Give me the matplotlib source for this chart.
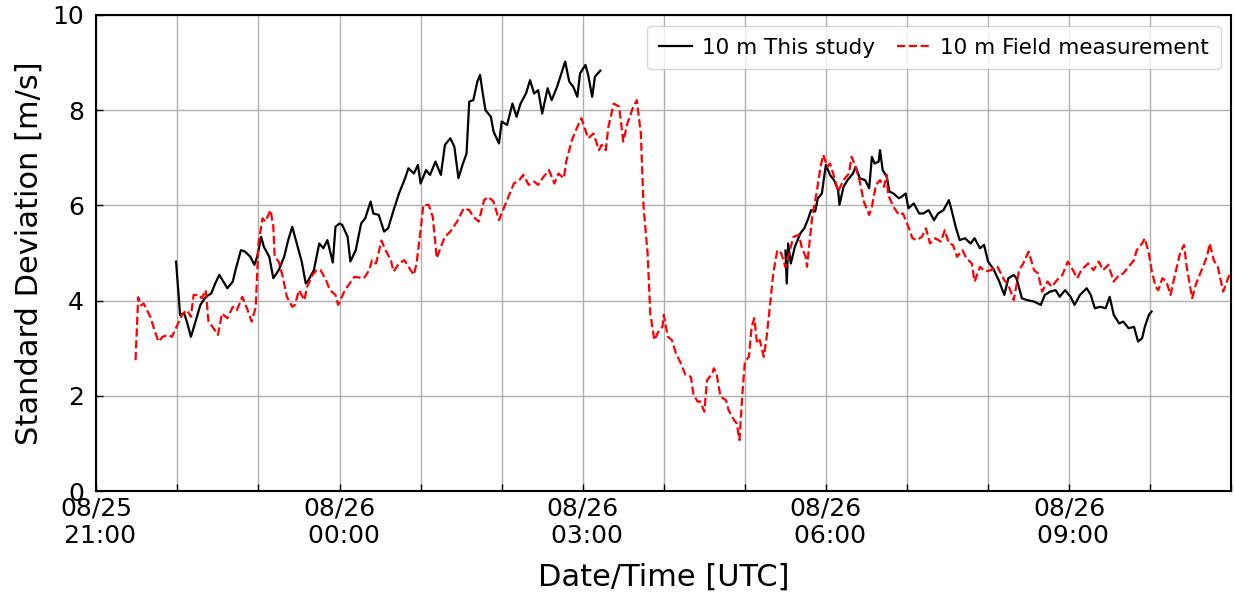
import numpy as np
import pandas as pd
import matplotlib
matplotlib.use("Agg")
import matplotlib.pyplot as plt
import matplotlib.dates as mdates

# minutes after 2021-08-25 21:00 UTC, standard deviation of wind speed [m/s]
t0 = pd.Timestamp("2021-08-25 21:00")

field_min = [29, 31, 33, 35, 38, 40, 43, 46, 49, 53, 56, 60, 64, 67, 70, 72, 76, 78, 81, 83,
             86, 90, 93, 97, 101, 104, 108, 112, 115, 118, 120, 123, 125, 129, 131, 132, 135, 138, 141, 145,
             147, 150, 154, 156, 160, 163, 166, 170, 173, 177, 179, 184, 191, 198, 202, 204, 207, 211, 214, 218,
             220, 224, 228, 231, 235, 237, 240, 242, 246, 249, 252, 255, 258, 262, 267, 272, 276, 279, 283, 287,
             290, 294, 298, 302, 305, 309, 313, 316, 320, 324, 327, 331, 335, 339, 342, 346, 348, 352, 356, 359,
             362, 364, 368, 372, 374, 377, 379, 383, 387, 390, 393, 397, 400, 403, 405, 408, 410, 413, 416, 419,
             420, 423, 426, 429, 432, 436, 440, 442, 445, 447, 450, 452, 456, 457, 459, 462, 466, 468, 472, 474,
             476, 478, 480, 483, 485, 487, 489, 491, 494, 496, 499, 501, 504, 507, 510, 512, 516, 520, 522, 525,
             526, 528, 530, 533, 536, 538, 541, 543, 546, 549, 553, 557, 559, 562, 565, 568, 572, 574, 577, 580,
             583, 585, 586, 590, 594, 597, 601, 604, 607, 611, 614, 617, 621, 625, 628, 631, 634, 637, 641, 644,
             648, 650, 654, 658, 662, 667, 672, 675, 679, 683, 686, 690, 694, 697, 700, 704, 707, 711, 715, 719,
             722, 726, 729, 734, 738, 742, 745, 749, 753, 757, 760, 764, 768, 770, 774, 776, 779, 781, 784, 786,
             789, 792, 795, 798, 802, 805, 807, 811, 814, 818, 822, 824, 827, 830, 834, 838, 840]
field_std = [2.75, 4.07, 3.90, 3.94, 3.77, 3.66, 3.38, 3.14, 3.24, 3.28, 3.24, 3.49, 3.73, 3.80, 3.66, 4.12, 4.12, 4.05, 4.22, 3.56,
             3.45, 3.28, 3.73, 3.63, 3.87, 3.80, 4.08, 3.80, 3.56, 3.87, 5.20, 5.73, 5.66, 5.90, 5.55, 4.92, 4.82, 4.50, 4.08, 3.87,
             3.91, 4.22, 4.01, 4.29, 4.54, 4.64, 4.64, 4.43, 4.22, 4.12, 3.91, 4.22, 4.50, 4.47, 4.64, 4.85, 4.78, 5.26, 5.06, 4.85,
             4.61, 4.78, 4.85, 4.71, 4.54, 4.78, 5.48, 6.01, 6.01, 5.76, 4.89, 5.13, 5.34, 5.45, 5.66, 5.94, 5.90, 5.76, 5.66, 6.11,
             6.18, 6.08, 5.69, 5.97, 6.18, 6.46, 6.53, 6.64, 6.43, 6.50, 6.43, 6.60, 6.74, 6.46, 6.67, 6.57, 6.95, 7.37, 7.65, 7.83,
             7.58, 7.41, 7.51, 7.16, 7.27, 7.16, 7.65, 8.14, 8.07, 7.34, 7.72, 8.04, 8.21, 7.51, 5.97, 4.99, 3.73, 3.17, 3.35, 3.45,
             3.70, 3.24, 3.17, 2.89, 2.72, 2.44, 2.40, 2.02, 1.88, 1.88, 1.67, 2.33, 2.47, 2.58, 2.47, 1.98, 1.91, 1.70, 1.49, 1.42,
             1.07, 1.98, 2.72, 2.82, 3.45, 3.63, 3.10, 3.17, 2.82, 3.21, 4.01, 4.57, 5.06, 4.99, 4.70, 4.92, 5.34, 5.38, 5.13, 4.92,
             4.71, 5.27, 5.80, 6.25, 6.81, 7.06, 6.81, 6.88, 6.60, 6.29, 6.53, 6.67, 7.02, 6.81, 6.50, 6.08, 5.80, 5.97, 6.43, 6.53,
             6.39, 6.64, 6.22, 5.97, 5.80, 5.83, 5.55, 5.31, 5.27, 5.34, 5.52, 5.20, 5.31, 5.24, 5.48, 5.20, 5.17, 4.92, 5.06, 4.89,
             4.78, 4.40, 4.71, 4.61, 4.64, 4.71, 4.43, 4.33, 4.01, 4.64, 4.78, 5.03, 4.64, 4.57, 4.19, 4.40, 4.29, 4.43, 4.54, 4.82,
             4.68, 4.47, 4.64, 4.78, 4.64, 4.82, 4.64, 4.75, 4.40, 4.54, 4.57, 4.71, 4.85, 5.06, 5.20, 5.31, 4.99, 4.64, 4.29, 4.22,
             4.47, 4.40, 4.12, 4.50, 4.99, 5.17, 4.71, 4.05, 4.36, 4.64, 4.92, 5.20, 4.85, 4.71, 4.19, 4.50, 4.64]

# model output, two runs (gap between 03:13 and 05:30)
study_min_a = [59, 61, 62, 65, 67, 70, 73, 77, 81, 85, 88, 91, 94, 97, 101, 103, 107, 110, 114, 117,
               119, 122, 124, 128, 131, 135, 139, 142, 145, 149, 152, 155, 157, 161, 165, 168, 171, 175, 177, 180,
               182, 186, 188, 192, 196, 199, 203, 205, 209, 213, 216, 220, 224, 228, 231, 235, 238, 240, 244, 247,
               251, 255, 258, 262, 265, 268, 271, 274, 276, 279, 282, 284, 286, 288, 292, 294, 298, 300, 304, 308,
               311, 314, 318, 321, 324, 327, 330, 334, 337, 341, 345, 347, 350, 353, 356, 358, 362, 364, 367, 369,
               373]
study_std_a = [4.82, 4.08, 3.70, 3.73, 3.56, 3.24, 3.52, 3.91, 4.08, 4.15, 4.36, 4.54, 4.40, 4.26, 4.40, 4.64, 5.06, 5.03, 4.92, 4.75,
               4.92, 5.34, 5.13, 4.92, 4.47, 4.64, 4.92, 5.27, 5.55, 5.13, 4.82, 4.36, 4.43, 4.64, 5.20, 5.10, 5.27, 4.80, 5.55, 5.62,
               5.59, 5.34, 4.82, 5.06, 5.62, 5.73, 6.08, 5.83, 5.80, 5.45, 5.52, 5.90, 6.25, 6.53, 6.78, 6.67, 6.85, 6.46, 6.74, 6.64,
               6.92, 6.64, 7.27, 7.41, 7.23, 6.57, 6.85, 7.09, 8.18, 8.21, 8.60, 8.74, 8.35, 8.00, 7.86, 7.55, 7.30, 7.76, 7.69, 8.14,
               7.86, 8.14, 8.35, 8.63, 8.35, 8.42, 7.93, 8.46, 8.21, 8.49, 8.84, 9.02, 8.60, 8.49, 8.28, 8.77, 8.95, 8.74, 8.28, 8.70,
               8.83]
study_min_b = [510, 511, 512, 514, 517, 521, 524, 527, 529, 532, 534, 537, 539, 540, 543, 546, 549, 550, 553, 556,
               560, 562, 565, 569, 572, 574, 576, 579, 580, 582, 585, 587, 590, 594, 596, 599, 601, 605, 609, 612,
               616, 620, 623, 627, 631, 633, 636, 639, 643, 647, 650, 654, 657, 660, 664, 668, 672, 675, 679, 681,
               685, 689, 694, 699, 702, 706, 710, 713, 717, 721, 724, 728, 733, 736, 739, 743, 747, 750, 753, 757,
               760, 764, 768, 771, 774, 776, 779, 781]
study_std_b = [5.05, 4.36, 5.20, 4.78, 5.13, 5.41, 5.52, 5.73, 5.90, 5.87, 6.15, 6.25, 6.67, 6.85, 6.64, 6.53, 6.32, 6.01, 6.39, 6.53,
               6.67, 6.81, 6.57, 6.53, 6.36, 7.02, 6.88, 6.92, 7.16, 6.74, 6.60, 6.29, 6.25, 6.15, 6.18, 6.25, 5.94, 6.04, 5.83, 5.83,
               5.90, 5.69, 5.83, 5.90, 6.11, 5.90, 5.55, 5.27, 5.31, 5.20, 5.31, 5.10, 5.17, 4.82, 4.66, 4.42, 4.12, 4.47, 4.54, 4.47,
               4.05, 4.01, 3.98, 3.91, 4.12, 4.19, 4.22, 4.08, 4.22, 4.08, 3.91, 4.12, 4.26, 4.12, 3.84, 3.87, 3.84, 4.08, 3.70, 3.52,
               3.56, 3.42, 3.45, 3.14, 3.21, 3.45, 3.70, 3.77]

field_t = t0 + pd.to_timedelta(field_min, unit="min")
study_t = list(t0 + pd.to_timedelta(study_min_a, unit="min")) + [t0 + pd.Timedelta(minutes=440)] \
    + list(t0 + pd.to_timedelta(study_min_b, unit="min"))
study_std = study_std_a + [np.nan] + study_std_b

fig = plt.figure(figsize=(12.35, 5.96), dpi=100)
ax = fig.add_axes([0.078, 0.176, 0.919, 0.799])

ax.plot(study_t, study_std, "k-", linewidth=1.6, label="10 m This study")
ax.plot(field_t, field_std, "r--", linewidth=1.6, label="10 m Field measurement")

ax.set_xlim(t0, t0 + pd.Timedelta(hours=14))
ax.set_ylim(0, 10)
ax.xaxis.set_major_locator(mdates.HourLocator(byhour=[0, 3, 6, 9, 12, 15, 18, 21]))
ax.xaxis.set_minor_locator(mdates.HourLocator())
ax.xaxis.set_major_formatter(mdates.DateFormatter("%m/%d\n %H:%M"))
ax.set_yticks([0, 2, 4, 6, 8, 10])

ax.tick_params(which="both", direction="in", labelsize=18, length=5, width=1)
ax.tick_params(axis="y", pad=9)
ax.tick_params(axis="x", pad=4)
ax.grid(True, which="both", color="#b0b0b0", linewidth=1)
for s in ax.spines.values():
    s.set_linewidth(1.5)

ax.set_xlabel("Date/Time [UTC]", fontsize=22, labelpad=10)
ax.set_ylabel("Standard Deviation [m/s]", fontsize=22, labelpad=6)
ax.legend(loc="upper right", ncol=2, fontsize=15.5, handlelength=1.5,
          handletextpad=0.5, columnspacing=1.0, borderpad=0.55)

fig.savefig("out.png", dpi=100)
